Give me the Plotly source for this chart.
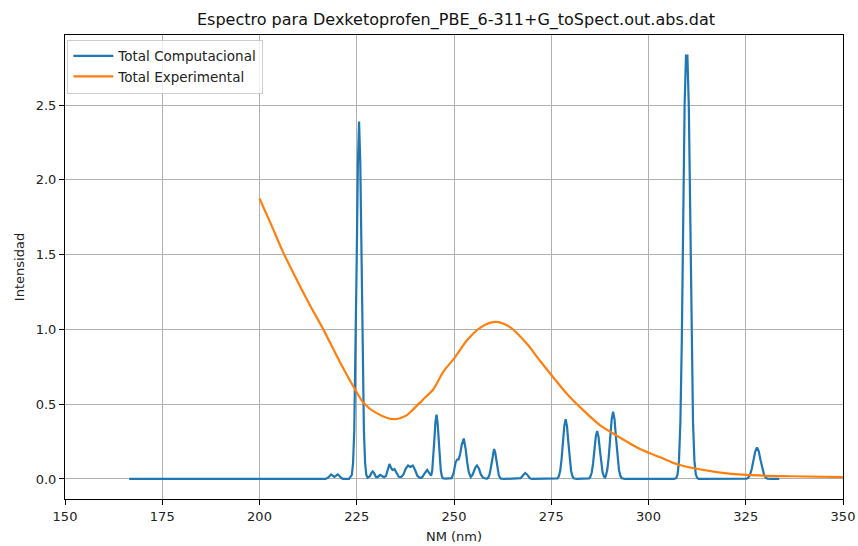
import plotly.graph_objects as go

# Computed spectrum
comp_x = [166.5, 217.0, 217.7, 218.0, 218.4, 218.8, 219.25, 219.7, 220.1, 220.5, 221.0, 221.5,
          223.0, 223.74, 224.05, 224.36, 224.67, 224.98, 225.29, 225.6, 225.91, 226.22, 226.53, 226.84, 227.15, 227.46, 227.8,
          228.4, 228.7, 229.1, 229.5, 229.9, 230.3, 231.0, 231.5, 232.0, 232.5, 233.0, 233.4, 233.8, 234.2, 234.7, 235.2,
          235.8, 236.4, 237.0, 237.6, 238.2, 238.8, 239.4, 240.0, 240.6, 241.2, 241.8, 242.4, 243.1, 243.6,
          244.125, 244.4, 244.675, 244.95, 245.225, 245.5, 245.775, 246.05, 246.325, 246.6, 246.875, 247.15, 247.8, 248.5,
          249.4, 249.9, 250.4, 250.8, 251.2, 251.6, 252.0, 252.5, 253.0, 253.4, 253.8, 254.3, 254.7, 255.1, 255.5, 255.9,
          256.4, 256.9, 257.4, 258.0, 258.5, 258.8, 259.1, 259.4, 259.7, 260.0, 260.3, 260.6, 260.9, 261.2, 261.5, 261.8,
          262.1, 263.0, 266.5, 267.1, 267.5, 267.9, 268.3, 268.7, 269.1, 269.5, 270.1,
          276.0, 276.6, 276.95, 277.3, 277.65, 278.0, 278.35, 278.7, 279.05, 279.4, 279.75, 280.1, 280.45, 280.8, 281.5,
          284.0, 284.7, 285.05, 285.4, 285.75, 286.1, 286.45, 286.8, 287.15, 287.5, 287.85, 288.2, 288.55, 288.85,
          289.025, 289.4, 289.775, 290.15, 290.525, 290.9, 291.275, 291.65, 292.025, 292.4, 292.775, 293.15, 294.0,
          306.5, 307.12, 307.48, 307.84, 308.2, 308.56, 308.92, 309.28, 309.64, 310.0, 310.36, 310.72, 311.08, 311.44,
          311.8, 312.16, 312.52, 312.88, 313.5, 314.5,
          324.5, 325.2, 325.65, 326.1, 326.55, 327.0, 327.45, 327.9, 328.35, 328.8, 329.25, 329.7, 330.15, 330.6, 331.5, 333.6]
comp_y = [0.0, 0.0, 0.01, 0.022, 0.03, 0.022, 0.014, 0.022, 0.03, 0.022, 0.006, 0.001,
          0.0, 0.027, 0.105, 0.323, 0.777, 1.451, 2.109, 2.39, 2.109, 1.451, 0.777, 0.323, 0.105, 0.027, 0.008,
          0.018, 0.037, 0.05, 0.037, 0.015, 0.012, 0.027, 0.02, 0.012, 0.02, 0.065, 0.1, 0.075, 0.06, 0.065, 0.045,
          0.015, 0.012, 0.03, 0.07, 0.09, 0.08, 0.09, 0.06, 0.02, 0.008, 0.01, 0.035, 0.06, 0.04,
          0.022, 0.058, 0.14, 0.261, 0.379, 0.43, 0.379, 0.261, 0.14, 0.058, 0.019, 0.005, 0.002, 0.002,
          0.005, 0.04, 0.11, 0.13, 0.13, 0.17, 0.23, 0.27, 0.2, 0.11, 0.045, 0.012, 0.025, 0.05, 0.078, 0.09,
          0.07, 0.03, 0.01, 0.003, 0.002, 0.009, 0.027, 0.065, 0.121, 0.176, 0.2, 0.176, 0.121, 0.065, 0.027, 0.009,
          0.002, 0.0, 0.0, 0.005, 0.017, 0.032, 0.04, 0.032, 0.017, 0.005, 0.0,
          0.0, 0.004, 0.018, 0.054, 0.13, 0.243, 0.353, 0.4, 0.353, 0.243, 0.13, 0.054, 0.018, 0.004, 0.0,
          0.0, 0.004, 0.014, 0.043, 0.104, 0.194, 0.282, 0.32, 0.282, 0.194, 0.104, 0.043, 0.016, 0.01,
          0.02, 0.061, 0.146, 0.273, 0.397, 0.45, 0.397, 0.273, 0.146, 0.061, 0.02, 0.005, 0.0,
          0.0, 0.006, 0.031, 0.124, 0.383, 0.92, 1.717, 2.497, 2.83, 2.83, 2.497, 1.717, 0.92, 0.383,
          0.124, 0.031, 0.006, 0.001, 0.0, 0.0,
          0.0, 0.002, 0.009, 0.028, 0.068, 0.127, 0.185, 0.21, 0.185, 0.127, 0.068, 0.028, 0.009, 0.002, 0.0, 0.0]

# Experimental spectrum
exp_x = [200, 203, 206, 210, 213, 216.4, 220.7, 224.1, 226.7, 230.1, 234.4, 237.8, 239.5, 242, 244.7,
         247.2, 250.3, 253.3, 256.7, 260.5, 264.4, 268.7, 272.1, 275.5, 279, 283.2, 287.5, 291.8, 297.8,
         303, 307.2, 312.4, 317.5, 325.2, 336.4, 350]
exp_y = [1.875, 1.70, 1.52, 1.31, 1.16, 1.0, 0.78, 0.62, 0.51, 0.44, 0.40, 0.425, 0.465, 0.53, 0.60,
         0.715, 0.815, 0.925, 1.01, 1.05, 1.015, 0.905, 0.79, 0.68, 0.57, 0.46, 0.36, 0.29, 0.2,
         0.145, 0.1, 0.068, 0.046, 0.027, 0.018, 0.012]

x_ticks = [150, 175, 200, 225, 250, 275, 300, 325, 350]
y_ticks = [0.0, 0.5, 1.0, 1.5, 2.0, 2.5]

fig = go.Figure()
fig.add_trace(go.Scatter(x=comp_x, y=comp_y, mode="lines", name="Total Computacional",
                         line=dict(color="#1f77b4", width=2.2)))
fig.add_trace(go.Scatter(x=exp_x, y=exp_y, mode="lines", name="Total Experimental",
                         line=dict(color="#ff7f0e", width=2.2, shape="spline", smoothing=0.8)))

font = "DejaVu Sans"
fig.update_layout(
    width=858, height=546,
    margin=dict(l=65, r=15, t=35, b=47),
    paper_bgcolor="white", plot_bgcolor="white",
    font=dict(family=font, size=13, color="#222222"),
    title=dict(text="Espectro para Dexketoprofen_PBE_6-311+G_toSpect.out.abs.dat",
               x=0.5315, xanchor="center", y=0.965, yanchor="middle",
               font=dict(family=font, size=16, color="#111111")),
    legend=dict(x=0.003, y=0.99, xanchor="left", yanchor="top",
                bgcolor="rgba(255,255,255,0.8)", bordercolor="#cccccc", borderwidth=1,
                font=dict(family=font, size=13.5, color="#222222"),
                tracegroupgap=0, itemwidth=40),
    showlegend=True,
)
fig.update_xaxes(range=[150, 350], tickvals=x_ticks, ticktext=[str(v) for v in x_ticks],
                 showgrid=True, gridcolor="#b0b0b0", gridwidth=0.8, automargin=False,
                 showline=True, linecolor="black", linewidth=1, mirror=True,
                 ticks="outside", ticklen=5, tickcolor="black", zeroline=False,
                 title=dict(text="NM (nm)", standoff=9, font=dict(size=13)),
                 tickfont=dict(size=13))
fig.update_yaxes(range=[-0.134, 2.968], tickvals=y_ticks, ticktext=[f"{v:.1f}" for v in y_ticks],
                 showgrid=True, gridcolor="#b0b0b0", gridwidth=0.8, automargin=False,
                 showline=True, linecolor="black", linewidth=1, mirror=True,
                 ticks="outside", ticklen=5, tickcolor="black", zeroline=False,
                 title=dict(text="Intensidad", standoff=8, font=dict(size=13)),
                 tickfont=dict(size=13))

fig.write_html("out.html")
